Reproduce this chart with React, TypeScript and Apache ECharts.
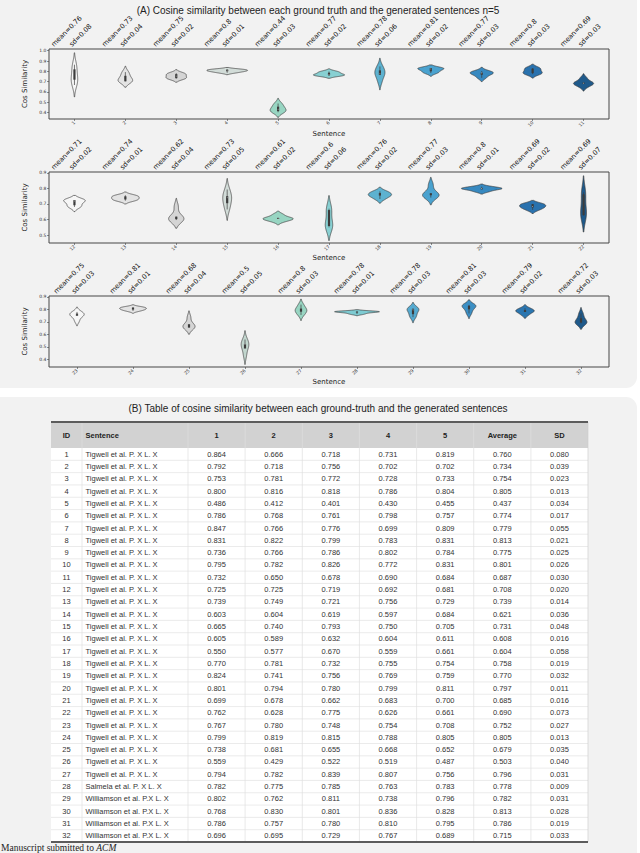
import React, { useEffect, useRef } from "react";
import * as echarts from "echarts";

// ---------------- DATA ----------------
const ids = [1, 2, 3, 4, 5, 6, 7, 8, 9, 10, 11, 12, 13, 14, 15, 16, 17, 18, 19, 20, 21, 22, 23, 24, 25, 26, 27, 28, 29, 30, 31, 32];
const sentences = [
  "Tigwell et al. P. X L. X", "Tigwell et al. P. X L. X", "Tigwell et al. P. X L. X", "Tigwell et al. P. X L. X",
  "Tigwell et al. P. X L. X", "Tigwell et al. P. X L. X", "Tigwell et al. P. X L. X", "Tigwell et al. P. X L. X",
  "Tigwell et al. P. X L. X", "Tigwell et al. P. X L. X", "Tigwell et al. P. X L. X", "Tigwell et al. P. X L. X",
  "Tigwell et al. P. X L. X", "Tigwell et al. P. X L. X", "Tigwell et al. P. X L. X", "Tigwell et al. P. X L. X",
  "Tigwell et al. P. X L. X", "Tigwell et al. P. X L. X", "Tigwell et al. P. X L. X", "Tigwell et al. P. X L. X",
  "Tigwell et al. P. X L. X", "Tigwell et al. P. X L. X", "Tigwell et al. P. X L. X", "Tigwell et al. P. X L. X",
  "Tigwell et al. P. X L. X", "Tigwell et al. P. X L. X", "Tigwell et al. P. X L. X", "Salmela et al. P. X L. X",
  "Williamson et al. P.X L. X", "Williamson et al. P.X L. X", "Williamson et al. P.X L. X", "Williamson et al. P.X L. X",
];
const run1 = [0.864, 0.792, 0.753, 0.800, 0.486, 0.786, 0.847, 0.831, 0.736, 0.795, 0.732, 0.725, 0.739, 0.603, 0.665, 0.605, 0.550, 0.770, 0.824, 0.801, 0.699, 0.762, 0.767, 0.799, 0.738, 0.559, 0.794, 0.782, 0.802, 0.768, 0.786, 0.696];
const run2 = [0.666, 0.718, 0.781, 0.816, 0.412, 0.768, 0.766, 0.822, 0.766, 0.782, 0.650, 0.725, 0.749, 0.604, 0.740, 0.589, 0.577, 0.781, 0.741, 0.794, 0.678, 0.628, 0.780, 0.819, 0.681, 0.429, 0.782, 0.775, 0.762, 0.830, 0.757, 0.695];
const run3 = [0.718, 0.756, 0.772, 0.818, 0.401, 0.761, 0.776, 0.799, 0.786, 0.826, 0.678, 0.719, 0.721, 0.619, 0.793, 0.632, 0.670, 0.732, 0.756, 0.780, 0.662, 0.775, 0.748, 0.815, 0.655, 0.522, 0.839, 0.785, 0.811, 0.801, 0.780, 0.729];
const run4 = [0.731, 0.702, 0.728, 0.786, 0.430, 0.798, 0.699, 0.783, 0.802, 0.772, 0.690, 0.692, 0.756, 0.597, 0.750, 0.604, 0.559, 0.755, 0.769, 0.799, 0.683, 0.626, 0.754, 0.788, 0.668, 0.519, 0.807, 0.763, 0.738, 0.836, 0.810, 0.767];
const run5 = [0.819, 0.702, 0.733, 0.804, 0.455, 0.757, 0.809, 0.831, 0.784, 0.831, 0.684, 0.681, 0.729, 0.684, 0.705, 0.611, 0.661, 0.754, 0.759, 0.811, 0.700, 0.661, 0.708, 0.805, 0.652, 0.487, 0.756, 0.783, 0.796, 0.828, 0.795, 0.689];
const averages = [0.760, 0.734, 0.754, 0.805, 0.437, 0.774, 0.779, 0.813, 0.775, 0.801, 0.687, 0.708, 0.739, 0.621, 0.731, 0.608, 0.604, 0.758, 0.770, 0.797, 0.685, 0.690, 0.752, 0.805, 0.679, 0.503, 0.796, 0.778, 0.782, 0.813, 0.786, 0.715];
const sds = [0.080, 0.039, 0.023, 0.013, 0.034, 0.017, 0.055, 0.021, 0.025, 0.026, 0.030, 0.020, 0.014, 0.036, 0.048, 0.016, 0.058, 0.019, 0.032, 0.011, 0.016, 0.073, 0.027, 0.013, 0.035, 0.040, 0.031, 0.009, 0.031, 0.028, 0.019, 0.033];

const meanLabels = ["0.76", "0.73", "0.75", "0.8", "0.44", "0.77", "0.78", "0.81", "0.77", "0.8", "0.69",
  "0.71", "0.74", "0.62", "0.73", "0.61", "0.6", "0.76", "0.77", "0.8", "0.69", "0.69",
  "0.75", "0.81", "0.68", "0.5", "0.8", "0.78", "0.78", "0.81", "0.79", "0.72"];
const sdLabels = ["0.08", "0.04", "0.02", "0.01", "0.03", "0.02", "0.06", "0.02", "0.03", "0.03", "0.03",
  "0.02", "0.01", "0.04", "0.05", "0.02", "0.06", "0.02", "0.03", "0.01", "0.02", "0.07",
  "0.03", "0.01", "0.04", "0.05", "0.03", "0.01", "0.03", "0.03", "0.02", "0.03"];

const tableHeader = ["ID", "Sentence", "1", "2", "3", "4", "5", "Average", "SD"];
const yTicksA = [0.4, 0.5, 0.6, 0.7, 0.8, 0.9, 1.0];
const yTicksB = [0.5, 0.6, 0.7, 0.8, 0.9];
const yTicksC = [0.4, 0.5, 0.6, 0.7, 0.8, 0.9];

const titleA = "(A) Cosine similarity between each ground truth and the generated sentences n=5";
const titleB = "(B) Table of cosine similarity between each ground-truth and the generated sentences";

// ---------------- styles ----------------
const PLOT_FONT = "DejaVu Sans";
const TABLE_FONT = "Liberation Sans";
const EDGE = "#3c3c3c";
const palette11 = ["#f6f6f6", "#e3e3e3", "#d5d5d5", "#d2dcd8", "#98d5c2", "#88d0d2", "#5db2d0", "#4aa2cf", "#3789c0", "#2a72ae", "#1f5a8b"];
const palette10 = ["#f6f6f6", "#e3e3e3", "#d5d5d5", "#c2d6ce", "#98d5c2", "#7ecbd2", "#55aad0", "#3c8fc4", "#2b76b0", "#1f5a8b"];

function percentile(sorted: number[], p: number) {
  const pos = (sorted.length - 1) * p;
  const lo = Math.floor(pos), hi = Math.ceil(pos);
  return sorted[lo] + (sorted[hi] - sorted[lo]) * (pos - lo);
}

function kde(vals: number[]) {
  const n = vals.length;
  const mean = vals.reduce((a, b) => a + b, 0) / n;
  const variance = vals.reduce((a, b) => a + (b - mean) * (b - mean), 0) / (n - 1);
  const bw = Math.pow(n, -1 / 5) * Math.sqrt(variance);
  const lo = Math.min(...vals) - 2 * bw;
  const hi = Math.max(...vals) + 2 * bw;
  const G = 100;
  const ys: number[] = [];
  const ds: number[] = [];
  for (let m = 0; m < G; m++) {
    const y = lo + ((hi - lo) * m) / (G - 1);
    let d = 0;
    for (const x of vals) d += Math.exp(-0.5 * ((y - x) / bw) ** 2);
    d /= n * bw * Math.sqrt(2 * Math.PI);
    ys.push(y);
    ds.push(d);
  }
  const sorted = [...vals].sort((a, b) => a - b);
  const q25 = percentile(sorted, 0.25), q50 = percentile(sorted, 0.5), q75 = percentile(sorted, 0.75);
  const iqr = q75 - q25;
  const h1 = Math.min(...sorted.filter((v) => v >= q25 - 1.5 * iqr));
  const h2 = Math.max(...sorted.filter((v) => v <= q75 + 1.5 * iqr));
  return { ys, ds, peak: Math.max(...ds), q25, q50, q75, h1, h2 };
}

function buildOption() {
  const rows = ids.map((_, i) => [run1[i], run2[i], run3[i], run4[i], run5[i]]);
  const kdes = rows.map((r) => kde(r));

  const panels = [
    { start: 0, end: 11, min: 0.335, max: 1.017, ticks: yTicksA, top: 49, height: 70, pal: palette11 },
    { start: 11, end: 22, min: 0.45, max: 0.905, ticks: yTicksB, top: 172, height: 71, pal: palette11 },
    { start: 22, end: 32, min: 0.338, max: 0.908, ticks: yTicksC, top: 296, height: 71, pal: palette10 },
  ];

  const grid: any[] = [];
  const xAxis: any[] = [];
  const yAxis: any[] = [];
  const series: any[] = [];

  panels.forEach((p, pi) => {
    const peak = Math.max(...kdes.slice(p.start, p.end).map((k) => k.peak));
    grid.push({ left: 49, top: p.top, width: 560, height: p.height, show: true, borderColor: "#474747", borderWidth: 1, backgroundColor: "transparent" });
    xAxis.push({
      type: "category", gridIndex: pi, boundaryGap: true,
      data: ids.slice(p.start, p.end).map(String),
      axisLine: { show: false },
      axisTick: { show: true, alignWithLabel: true, length: 2, lineStyle: { color: "#444", width: 0.6 } },
      axisLabel: { rotate: 45, fontSize: 4.5, margin: 3, color: "#333", fontFamily: PLOT_FONT },
      name: "Sentence", nameLocation: "middle", nameGap: 11,
      nameTextStyle: { fontSize: 7, color: "#222", fontFamily: PLOT_FONT },
      splitLine: { show: false },
    });
    yAxis.push({
      type: "value", gridIndex: pi, min: p.min, max: p.max,
      axisLine: { show: false },
      splitLine: { show: false },
      axisTick: { show: true, customValues: p.ticks, length: 2, lineStyle: { color: "#444", width: 0.6 } },
      axisLabel: { customValues: p.ticks, fontSize: 4.5, margin: 2.5, color: "#333", fontFamily: PLOT_FONT, formatter: (v: number) => v.toFixed(1) },
      name: "Cos Similarity", nameLocation: "middle", nameGap: 12,
      nameTextStyle: { fontSize: 7, color: "#222", fontFamily: PLOT_FONT },
    });

    series.push({
      type: "custom", xAxisIndex: pi, yAxisIndex: pi, clip: false, z: 3,
      data: rows.slice(p.start, p.end).map((r, j) => [j, ...r]),
      renderItem: (params: any, api: any) => {
        const j = api.value(0) as number;
        const k = kdes[p.start + j];
        const band = (api.size([1, 0]) as number[])[0];
        const half = band * 0.4;
        const cx = api.coord([j, k.q50])[0];
        const left: number[][] = [];
        const right: number[][] = [];
        for (let m = 0; m < k.ys.length; m++) {
          const py = api.coord([j, k.ys[m]])[1];
          const w = (half * k.ds[m]) / peak;
          left.push([cx - w, py]);
          right.push([cx + w, py]);
        }
        const pts = left.concat(right.reverse());
        const yy = (v: number) => api.coord([j, v])[1];
        return {
          type: "group",
          children: [
            { type: "polygon", shape: { points: pts }, style: { fill: p.pal[j], stroke: EDGE, lineWidth: 0.7 } },
            { type: "line", shape: { x1: cx, y1: yy(k.h1), x2: cx, y2: yy(k.h2) }, style: { stroke: EDGE, lineWidth: 0.7 } },
            { type: "line", shape: { x1: cx, y1: yy(k.q25), x2: cx, y2: yy(k.q75) }, style: { stroke: EDGE, lineWidth: 2.2 } },
            { type: "circle", shape: { cx, cy: yy(k.q50), r: 0.4 }, style: { fill: "#ddd" } },
          ],
        };
      },
    });

    series.push({
      type: "custom", xAxisIndex: pi, yAxisIndex: pi, clip: false, z: 4, silent: true,
      data: ids.slice(p.start, p.end).map((_, j) => [j, p.max]),
      renderItem: (params: any, api: any) => {
        const j = api.value(0) as number;
        const i = p.start + j;
        const pt = api.coord([j, p.max]);
        const cx = pt[0];
        const top = params.coordSys.y - 1;
        const st = { fontSize: 6.8, fontFamily: PLOT_FONT, fill: "#111", align: "left", verticalAlign: "bottom" };
        return {
          type: "group",
          children: [
            { type: "text", x: cx - 19.5, y: top, rotation: Math.PI / 4, style: { ...st, text: "mean=" + meanLabels[i] } },
            { type: "text", x: cx - 1.5, y: top, rotation: Math.PI / 4, style: { ...st, text: "sd=" + sdLabels[i] } },
          ],
        };
      },
    });
  });

  // ---------- graphic: panels, titles, table ----------
  const graphic: any[] = [];
  graphic.push({ type: "rect", z: -100, shape: { x: -12, y: -12, width: 649, height: 400, r: 11 }, style: { fill: "#f2f2f2" } });
  graphic.push({ type: "rect", z: -100, shape: { x: -12, y: 397, width: 649, height: 480, r: 11 }, style: { fill: "#f2f2f2" } });
  graphic.push({ type: "text", z: 5, x: 318, y: 10, style: { text: titleA, fontSize: 10, fontFamily: TABLE_FONT, fill: "#222", align: "center", verticalAlign: "middle" } });
  graphic.push({ type: "text", z: 5, x: 318, y: 408, style: { text: titleB, fontSize: 10, fontFamily: TABLE_FONT, fill: "#222", align: "center", verticalAlign: "middle" } });

  const colEdges = [51, 82, 188, 245.1, 302.3, 359.4, 416.6, 473.7, 530.9, 588];
  const headerTop = 422, headerBottom = 448, tableBottom = 842;
  const rowH = (tableBottom - headerBottom) / ids.length;
  const tL = colEdges[0], tR = colEdges[colEdges.length - 1];

  graphic.push({ type: "rect", z: 1, shape: { x: tL, y: headerBottom, width: tR - tL, height: tableBottom - headerBottom }, style: { fill: "#ffffff" } });
  graphic.push({ type: "rect", z: 1, shape: { x: tL, y: headerTop, width: tR - tL, height: headerBottom - headerTop }, style: { fill: "#d2d2d2" } });
  for (let r = 1; r < ids.length; r++) {
    const y = headerBottom + r * rowH;
    graphic.push({ type: "line", z: 2, shape: { x1: tL, y1: y, x2: tR, y2: y }, style: { stroke: "#e2e2e2", lineWidth: 0.7 } });
  }
  colEdges.forEach((x, ci) => {
    if (ci === 0) return;
    graphic.push({ type: "line", z: 2, shape: { x1: x, y1: headerTop, x2: x, y2: tableBottom }, style: { stroke: ci === colEdges.length - 1 ? "#d0d0d0" : "#e0e0e0", lineWidth: 0.7 } });
  });
  graphic.push({ type: "line", z: 3, shape: { x1: tL, y1: headerTop, x2: tR, y2: headerTop }, style: { stroke: "#5c5c5c", lineWidth: 2 } });
  graphic.push({ type: "line", z: 3, shape: { x1: tL, y1: tableBottom, x2: tR, y2: tableBottom }, style: { stroke: "#5c5c5c", lineWidth: 2 } });

  const colX = (ci: number) => (ci === 1 ? colEdges[1] + 3.5 : (colEdges[ci] + colEdges[ci + 1]) / 2);
  const colAlign = (ci: number) => (ci === 1 ? "left" : "center");
  tableHeader.forEach((h, ci) => {
    graphic.push({ type: "text", z: 4, x: colX(ci), y: (headerTop + headerBottom) / 2 + 0.5, style: { text: h, fontSize: 7.5, fontWeight: "bold", fontFamily: TABLE_FONT, fill: "#222", align: colAlign(ci), verticalAlign: "middle" } });
  });
  ids.forEach((id, i) => {
    const cells = [String(id), sentences[i], run1[i].toFixed(3), run2[i].toFixed(3), run3[i].toFixed(3), run4[i].toFixed(3), run5[i].toFixed(3), averages[i].toFixed(3), sds[i].toFixed(3)];
    const y = headerBottom + (i + 0.5) * rowH;
    cells.forEach((c, ci) => {
      graphic.push({ type: "text", z: 4, x: colX(ci), y, style: { text: c, fontSize: 7.5, fontFamily: TABLE_FONT, fill: "#333", align: colAlign(ci), verticalAlign: "middle" } });
    });
  });

  graphic.push({
    type: "text", z: 6, x: 1, y: 848,
    style: {
      text: "{a|Manuscript submitted to }{b|ACM}",
      verticalAlign: "middle", align: "left",
      rich: {
        a: { fontFamily: "Liberation Serif", fontSize: 9.5, fill: "#222" },
        b: { fontFamily: "Liberation Serif", fontSize: 9.5, fontStyle: "italic", fill: "#222" },
      },
    },
  });

  return { animation: false, backgroundColor: "#ffffff", grid, xAxis, yAxis, series, graphic };
}

export default function App() {
  const ref = useRef<HTMLDivElement>(null);
  useEffect(() => {
    if (!ref.current) return;
    const chart = echarts.init(ref.current, null, { renderer: "svg" });
    chart.setOption(buildOption() as any);
    return () => chart.dispose();
  }, []);
  return <div ref={ref} style={{ position: "fixed", left: 0, top: 0, width: 640, height: 853 }} />;
}
